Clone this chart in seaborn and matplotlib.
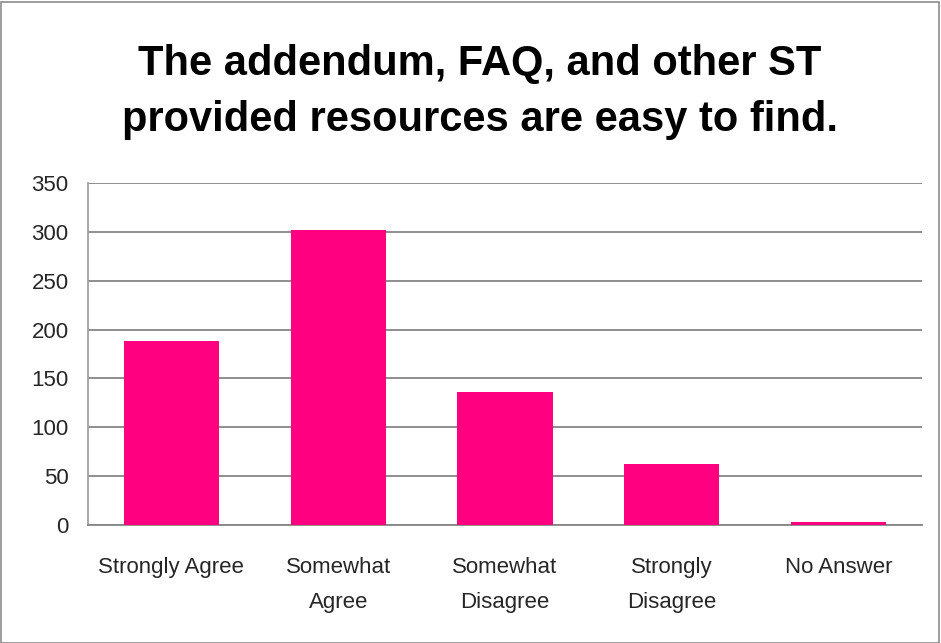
import matplotlib
matplotlib.use("Agg")
import matplotlib.pyplot as plt
import seaborn as sns
import pandas as pd
from matplotlib.patches import Rectangle

categories = ["Strongly Agree", "Somewhat\nAgree", "Somewhat\nDisagree", "Strongly\nDisagree", "No Answer"]
values = [188, 302, 136, 62, 3]
yticks = [0, 50, 100, 150, 200, 250, 300, 350]
title = "The addendum, FAQ, and other ST\nprovided resources are easy to find."

sns.set_theme(style="white")
plt.rcParams["font.family"] = ["Liberation Sans", "DejaVu Sans"]

df = pd.DataFrame({"cat": categories, "val": values})

fig = plt.figure(figsize=(9.41, 6.43), dpi=100)
W, H = 941, 643
ax = fig.add_axes([88 / W, (H - 525) / H, 834 / W, 342 / H])

sns.barplot(data=df, x="cat", y="val", color="#FF0080", saturation=1, width=0.57,
            linewidth=0, ax=ax, zorder=3)

ax.set_ylim(0, 350)
ax.set_yticks(yticks)
ax.set_yticklabels([str(t) for t in yticks], fontsize=16)
ax.set_xlabel("")
ax.set_ylabel("")
ax.tick_params(axis="x", labelsize=16, length=0, pad=23)
ax.tick_params(axis="y", length=0, pad=14)
for lab in ax.get_xticklabels():
    lab.set_linespacing(1.85)
    lab.set_verticalalignment("top")
ax.grid(axis="y", color="#868686", linewidth=1.3, zorder=0)
ax.set_axisbelow(True)
for s in ["top", "right"]:
    ax.spines[s].set_visible(False)
ax.spines["left"].set_color("#A0A0A0")
ax.spines["left"].set_linewidth(1.3)
ax.spines["bottom"].set_color("#868686")
ax.spines["bottom"].set_linewidth(1.3)

fig.text(480 / W, 1 - 92 / H, title, ha="center", va="center", fontsize=30, fontweight="bold",
         linespacing=1.5, color="black")

fig.patches.append(Rectangle((0.001, 0.0), 0.997, 0.997, transform=fig.transFigure,
                             fill=False, edgecolor="#8C8C8C", linewidth=1.2))

fig.savefig("out.png", dpi=100)
